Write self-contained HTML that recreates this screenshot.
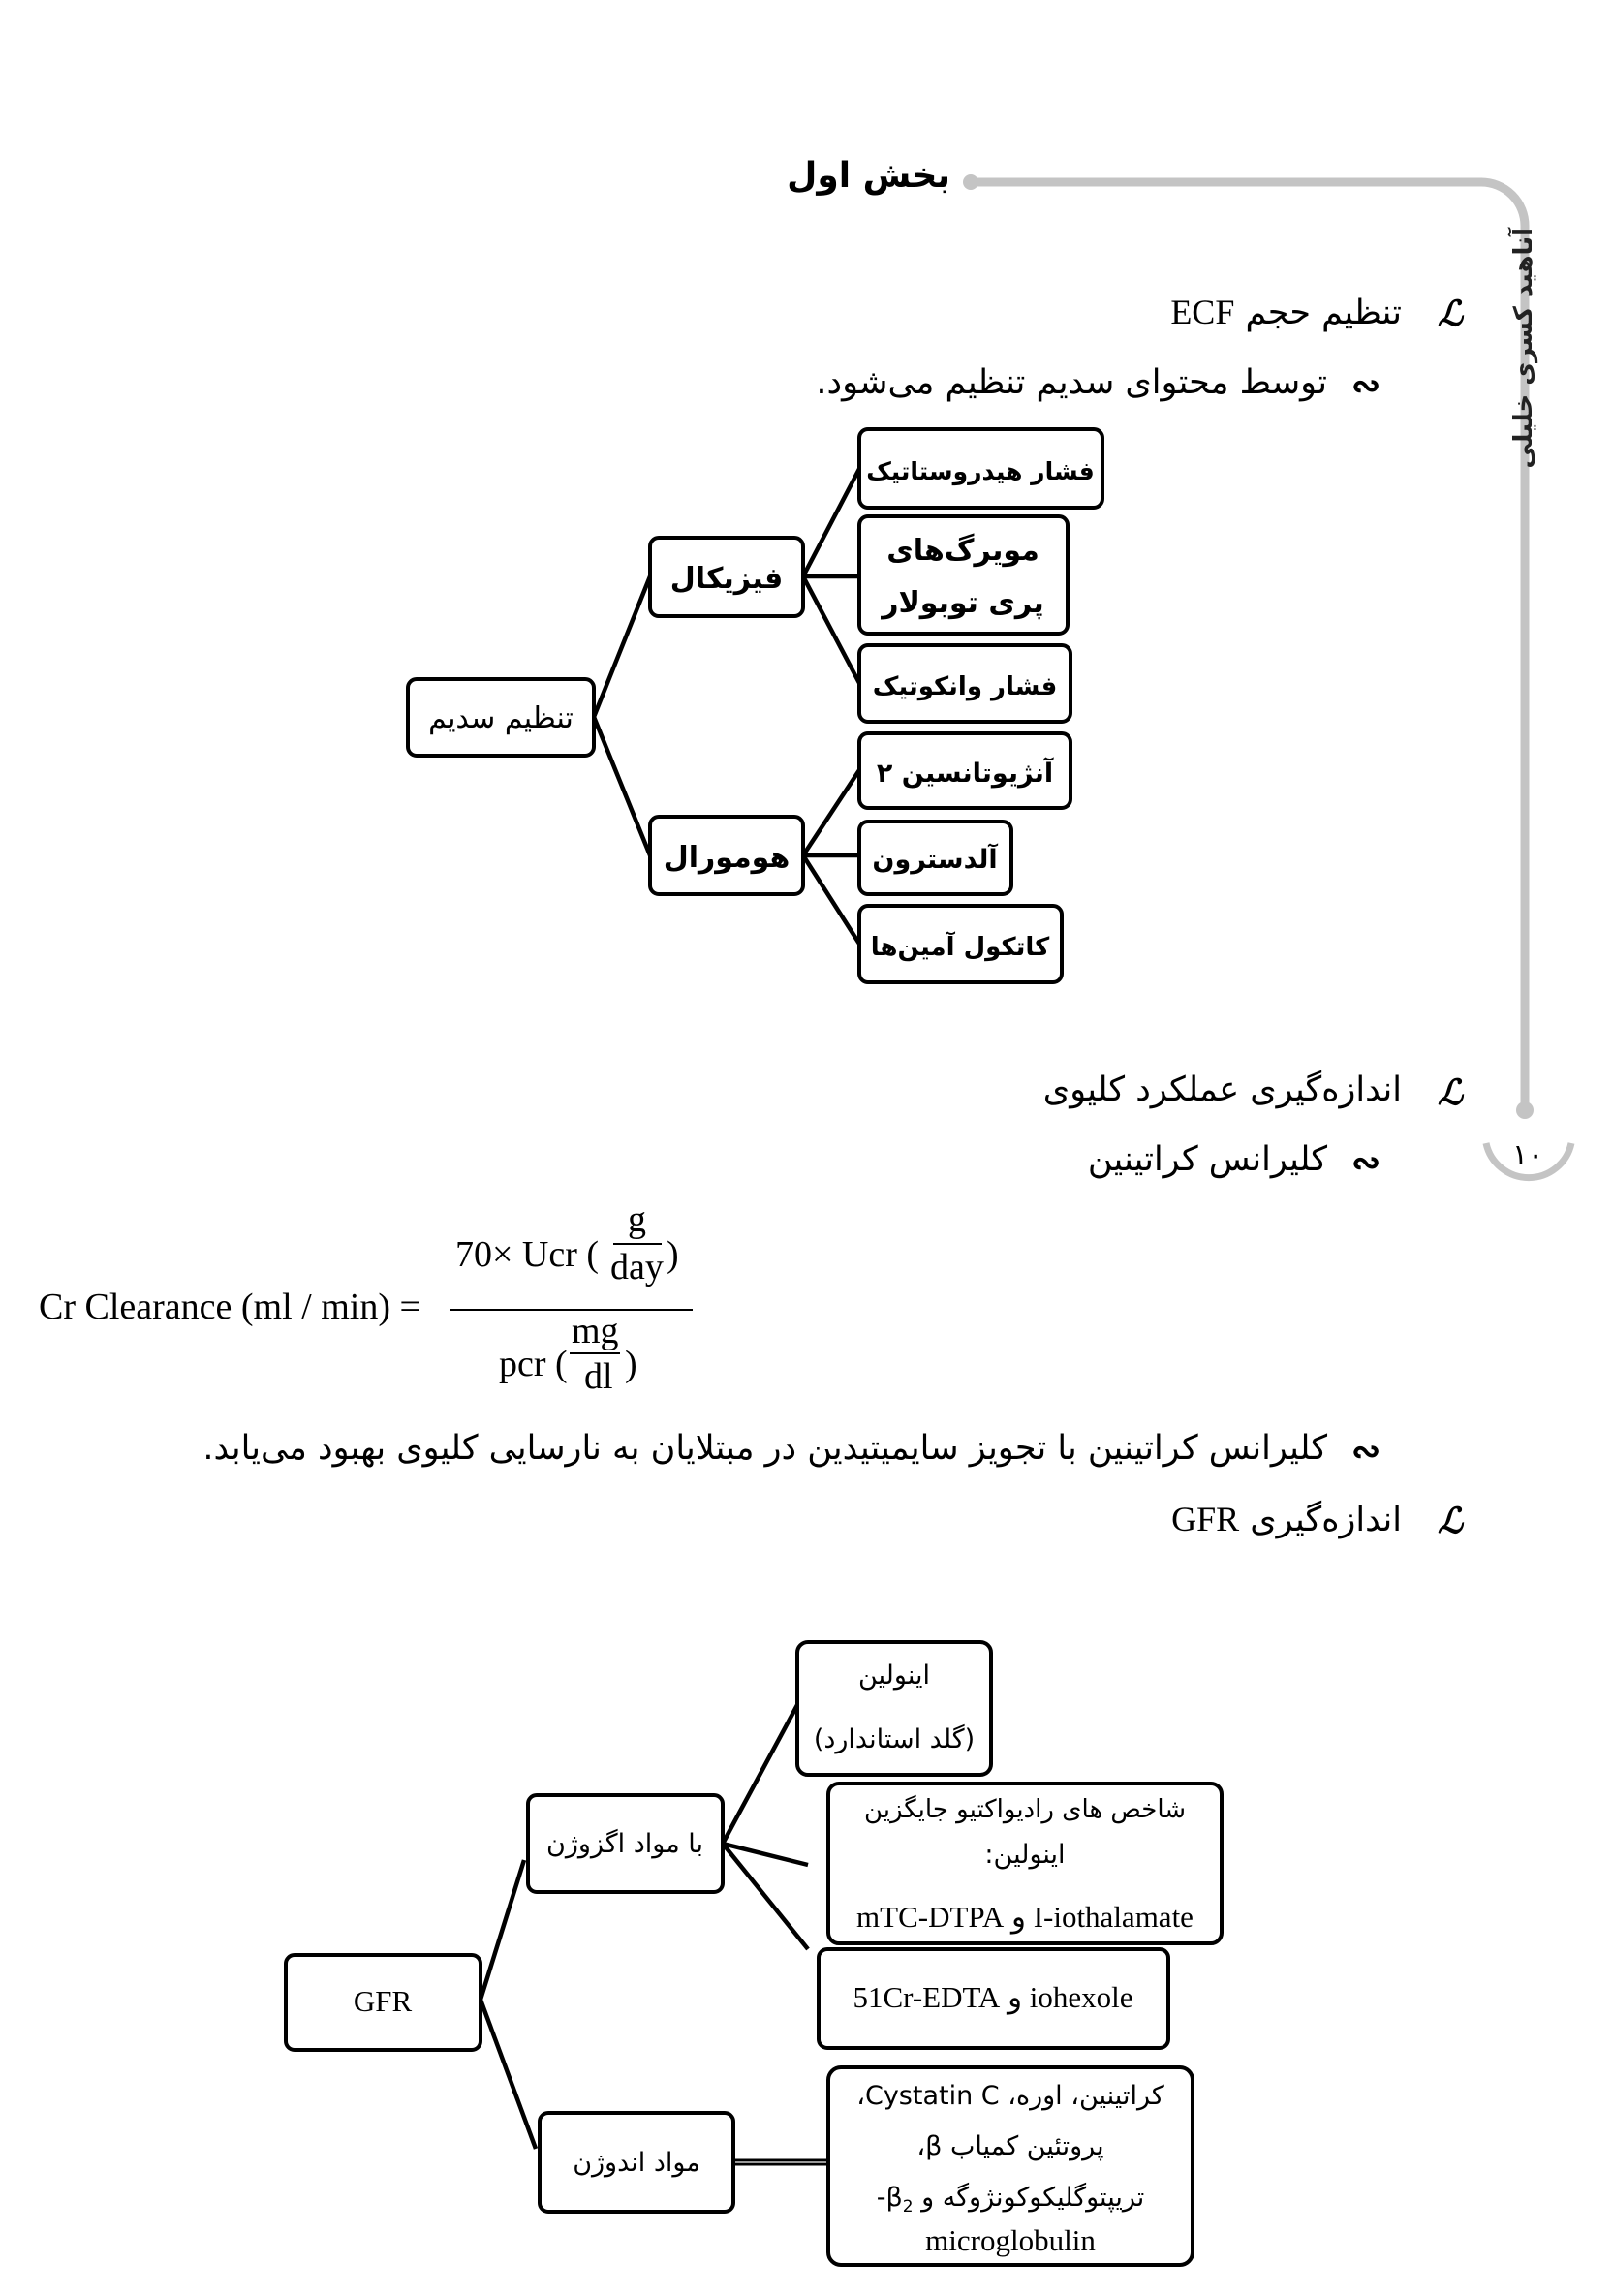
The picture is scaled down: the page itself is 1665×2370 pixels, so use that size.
<!DOCTYPE html>
<html><head><meta charset="utf-8">
<style>
html,body{margin:0;padding:0;background:#fff;}
body{width:1665px;height:2370px;position:relative;overflow:hidden;font-family:"DejaVu Sans","Liberation Sans",sans-serif;color:#000;}
.t{position:absolute;direction:rtl;white-space:nowrap;font-size:35px;line-height:1;}
.r{position:absolute;white-space:nowrap;line-height:1;}
.f{position:absolute;font-family:"Liberation Serif",serif;font-size:38px;white-space:nowrap;line-height:1;}
.sym{position:absolute;font-family:"DejaVu Serif",serif;font-style:italic;font-size:36px;line-height:1;font-weight:bold;}
</style></head><body>
<svg width="1665" height="2370" style="position:absolute;left:0;top:0">
  <path d="M1002 188 H1529 A45 45 0 0 1 1574 233 V1146" fill="none" stroke="#c4c4c4" stroke-width="9"/>
  <circle cx="1002" cy="188" r="8" fill="#c4c4c4"/>
  <circle cx="1574" cy="1146" r="9" fill="#c4c4c4"/>
  <path d="M1534 1180 A45 45 0 0 0 1622 1180" fill="none" stroke="#c4c4c4" stroke-width="7"/>

  <g stroke="#000" stroke-width="4.5" fill="none">
    <line x1="613" y1="740" x2="671" y2="595"/>
    <line x1="613" y1="740" x2="671" y2="883"/>
    <line x1="829" y1="595" x2="887" y2="484"/>
    <line x1="829" y1="595" x2="887" y2="595"/>
    <line x1="829" y1="595" x2="887" y2="705"/>
    <line x1="829" y1="883" x2="887" y2="795"/>
    <line x1="829" y1="883" x2="887" y2="883"/>
    <line x1="829" y1="883" x2="887" y2="974"/>
    <line x1="496" y1="2064" x2="541" y2="1920"/>
    <line x1="496" y1="2064" x2="553" y2="2218"/>
    <line x1="746" y1="1903" x2="823" y2="1760"/>
    <line x1="746" y1="1903" x2="834" y2="1925"/>
    <line x1="746" y1="1903" x2="834" y2="2012"/>
  </g>
  <line x1="757" y1="2232" x2="855" y2="2232" stroke="#000" stroke-width="7"/>
  <line x1="757" y1="2232" x2="855" y2="2232" stroke="#999" stroke-width="2"/>

  <g fill="#fff" stroke="#000" stroke-width="4">
    <rect x="421" y="701" width="192" height="79" rx="9"/>
    <rect x="671" y="555" width="158" height="81" rx="9"/>
    <rect x="671" y="843" width="158" height="80" rx="9"/>
    <rect x="887" y="443" width="251" height="81" rx="9"/>
    <rect x="887" y="533" width="215" height="121" rx="9"/>
    <rect x="887" y="666" width="218" height="79" rx="9"/>
    <rect x="887" y="757" width="218" height="77" rx="9"/>
    <rect x="887" y="848" width="157" height="75" rx="9"/>
    <rect x="887" y="935" width="209" height="79" rx="9"/>

    <rect x="295" y="2018" width="201" height="98" rx="9"/>
    <rect x="545" y="1853" width="201" height="100" rx="9"/>
    <rect x="557" y="2181" width="200" height="102" rx="9"/>
    <rect x="823" y="1695" width="200" height="137" rx="11"/>
    <rect x="855" y="1841" width="406" height="165" rx="11"/>
    <rect x="845" y="2012" width="361" height="102" rx="9"/>
    <rect x="855" y="2134" width="376" height="204" rx="13"/>
  </g>

  <g font-family="DejaVu Sans, sans-serif" font-size="30" font-weight="bold" text-anchor="middle" direction="rtl" fill="#000">
    <text x="517" y="751" font-weight="normal">تنظیم سدیم</text>
    <text x="750" y="607">فیزیکال</text>
    <text x="750" y="895">هومورال</text>
    <text x="1012" y="495" font-size="25">فشار هیدروستاتیک</text>
    <text x="994" y="578">مویرگ‌های</text>
    <text x="994" y="632">پری توبولار</text>
    <text x="996" y="717" font-size="26">فشار وانکوتیک</text>
    <text x="996" y="807" font-size="27">آنژیوتانسین ۲</text>
    <text x="965" y="896" font-size="27">آلدسترون</text>
    <text x="991" y="986" font-size="26">کاتکول آمین‌ها</text>
  </g>
  <g font-family="DejaVu Sans, sans-serif" font-size="27" text-anchor="middle" direction="rtl" fill="#000">
    <text x="645" y="1912">با مواد اگزوژن</text>
    <text x="657" y="2241">مواد اندوژن</text>
    <text x="923" y="1738">اینولین</text>
    <text x="923" y="1804">(گلد استاندارد)</text>
    <text x="1058" y="1876" font-size="26">شاخص های رادیواکتیو جایگزین</text>
    <text x="1058" y="1923">اینولین:</text>
    <text x="1043" y="2172">کراتینین، اوره، Cystatin C،</text>
    <text x="1043" y="2224">پروتئین کمیاب β،</text>
    <text x="1043" y="2277">تریپتوگلیکوکونژوگه و β<tspan font-size="17" dy="6">2</tspan><tspan dy="-6">-</tspan></text>
  </g>
  <g font-family="Liberation Serif, serif" font-size="31" text-anchor="middle" fill="#000">
    <text x="395" y="2076">GFR</text>
    <text x="1058" y="1989" direction="rtl">I-iothalamate و mTC-DTPA</text>
    <text x="1025" y="2072" direction="rtl">iohexole و 51Cr-EDTA</text>
    <text x="1043" y="2323">microglobulin</text>
  </g>
</svg>

<div class="t" style="right:684px;top:164px;font-size:36px;font-weight:bold;">بخش اول</div>
<div class="r" style="left:1574px;top:485px;transform-origin:0 0;transform:rotate(-90deg) translate(0,-14px);font-size:26px;font-weight:bold;direction:rtl;color:#222;width:250px;">آناهید کسری خلیلی</div>
<div class="r" style="left:1561px;top:1178px;font-size:30px;">۱۰</div>

<div class="sym" style="left:1484px;top:306px;">ℒ</div>
<div class="t" style="right:218px;top:304px;">تنظیم حجم <span style="font-family:'Liberation Serif',serif;font-size:36px">ECF</span></div>
<div class="sym" style="left:1395px;top:380px;font-style:normal;">∾</div>
<div class="t" style="right:295px;top:378px;">توسط محتوای سدیم تنظیم می‌شود.</div>

<div class="sym" style="left:1484px;top:1110px;">ℒ</div>
<div class="t" style="right:218px;top:1108px;">اندازه‌گیری عملکرد کلیوی</div>
<div class="sym" style="left:1395px;top:1182px;font-style:normal;">∾</div>
<div class="t" style="right:295px;top:1180px;">کلیرانس کراتینین</div>

<div class="f" style="left:40px;top:1330px;">Cr Clearance (ml / min) =</div>
<div style="position:absolute;left:465px;top:1351px;width:250px;border-top:2px solid #000;"></div>
<div class="f" style="left:470px;top:1276px;">70× Ucr (</div>
<div class="f" style="left:648px;top:1240px;">g</div>
<div style="position:absolute;left:633px;top:1283px;width:50px;border-top:2px solid #000;"></div>
<div class="f" style="left:630px;top:1289px;">day</div>
<div class="f" style="left:688px;top:1276px;">)</div>
<div class="f" style="left:515px;top:1389px;">pcr (</div>
<div class="f" style="left:590px;top:1355px;">mg</div>
<div style="position:absolute;left:588px;top:1396px;width:52px;border-top:2px solid #000;"></div>
<div class="f" style="left:603px;top:1402px;">dl</div>
<div class="f" style="left:645px;top:1389px;">)</div>

<div class="sym" style="left:1395px;top:1480px;font-style:normal;">∾</div>
<div class="t" style="right:295px;top:1478px;">کلیرانس کراتینین با تجویز سایمیتیدین در مبتلایان به نارسایی کلیوی بهبود می‌یابد.</div>
<div class="sym" style="left:1484px;top:1552px;">ℒ</div>
<div class="t" style="right:218px;top:1550px;">اندازه‌گیری <span style="font-family:'Liberation Serif',serif;font-size:36px">GFR</span></div>
</body></html>
